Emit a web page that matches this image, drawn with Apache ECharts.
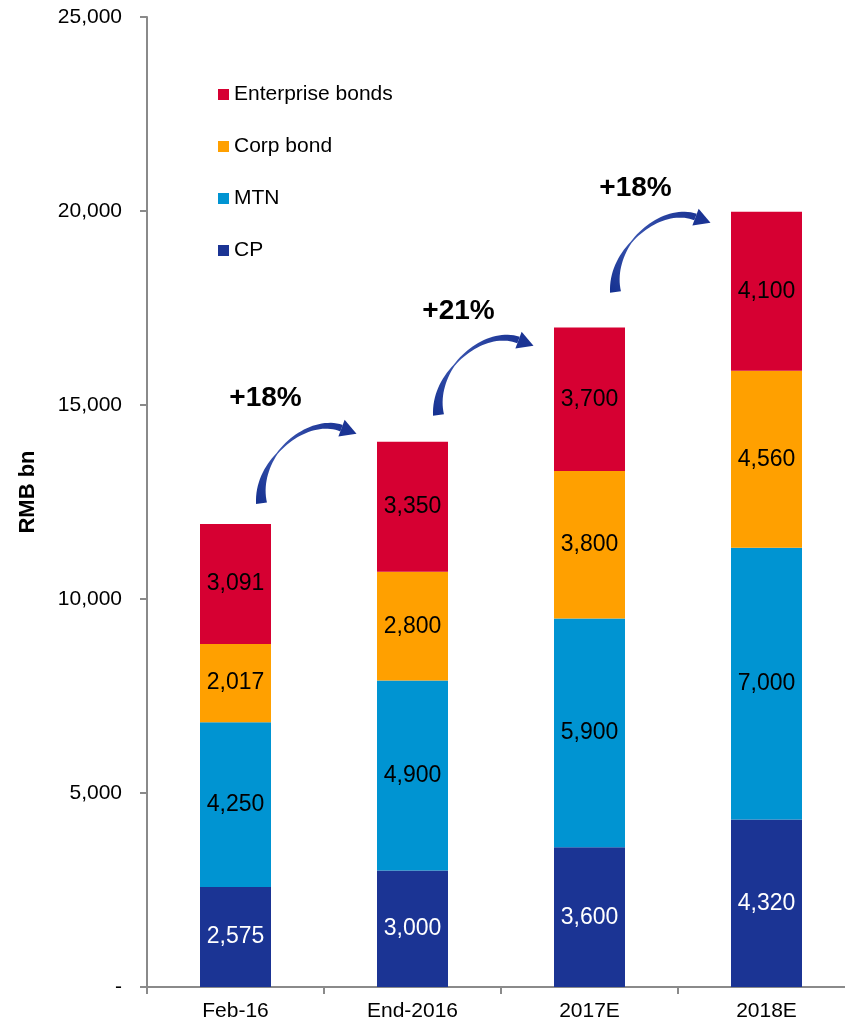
<!DOCTYPE html>
<html>
<head>
<meta charset="utf-8">
<script src="https://cdn.jsdelivr.net/npm/echarts@6/dist/echarts.min.js"></script>
<style>
  html, body { margin: 0; padding: 0; background: #fff; }
  #chart { width: 845px; height: 1022px; }
</style>
</head>
<body>
<div id="chart"></div>
<script>
// Outstanding onshore corporate credit, RMB bn
const categories = ['Feb-16', 'End-2016', '2017E', '2018E'];
const cpValues = [2575, 3000, 3600, 4320];
const mtnValues = [4250, 4900, 5900, 7000];
const corpBondValues = [2017, 2800, 3800, 4560];
const enterpriseBondValues = [3091, 3350, 3700, 4100];

// Growth call-outs between consecutive columns
const growthLabels = ['+18%', '+21%', '+18%'];
// Data-space anchors (value axis) for the arrow tails and the growth text
const arrowTailValues = [12470, 14740, 17910];
const growthTextValues = [15180, 17420, 20590];

const FONT = '"Liberation Sans", Arial, Helvetica, sans-serif';
const fmt = v => v.toLocaleString('en-US');

const chart = echarts.init(document.getElementById('chart'), null, { renderer: 'canvas' });

function barSeries(name, data, color, labelColor) {
  return {
    name: name,
    type: 'bar',
    stack: 'total',
    data: data,
    barWidth: 71,
    itemStyle: { color: color },
    label: {
      show: true,
      position: 'inside',
      color: labelColor,
      fontFamily: FONT,
      fontSize: 23,
      formatter: p => fmt(p.value)
    },
    emphasis: { disabled: true }
  };
}

chart.setOption({
  animation: false,
  backgroundColor: '#ffffff',
  grid: { left: 147, right: -10, top: 17, bottom: 35, containLabel: false, outerBoundsMode: 'none' },
  legend: {
    orient: 'vertical',
    left: 213,
    top: 79,
    itemWidth: 11,
    itemHeight: 11,
    itemGap: 31,
    icon: 'rect',
    data: ['Enterprise bonds', 'Corp bond', 'MTN', 'CP'],
    textStyle: { fontFamily: FONT, fontSize: 21, color: '#000' },
    selectedMode: false
  },
  xAxis: {
    type: 'category',
    data: categories,
    boundaryGap: true,
    axisLine: { lineStyle: { color: '#8a8a8a', width: 2 } },
    axisTick: { show: true, alignWithLabel: false, length: 7, lineStyle: { color: '#8a8a8a', width: 2 } },
    axisLabel: { fontFamily: FONT, fontSize: 21, color: '#000', margin: 14 }
  },
  yAxis: {
    type: 'value',
    min: 0,
    max: 25000,
    interval: 5000,
    name: 'RMB bn',
    nameLocation: 'middle',
    nameGap: 108,
    nameRotate: 90,
    nameTextStyle: { fontFamily: FONT, fontSize: 22, fontWeight: 'bold', color: '#000', padding: [0, 0, 0, 20] },
    splitLine: { show: false },
    axisLine: { show: true, lineStyle: { color: '#8a8a8a', width: 2 } },
    axisTick: { show: true, length: 7, lineStyle: { color: '#8a8a8a', width: 2 } },
    axisLabel: {
      fontFamily: FONT, fontSize: 21, color: '#000', margin: 25,
      formatter: v => (v === 0 ? '-' : fmt(v))
    }
  },
  series: [
    barSeries('CP', cpValues, '#1B3494', '#ffffff'),
    barSeries('MTN', mtnValues, '#0094D2', '#000000'),
    barSeries('Corp bond', corpBondValues, '#FFA000', '#000000'),
    barSeries('Enterprise bonds', enterpriseBondValues, '#D60032', '#000000')
  ]
});

// Curved growth arrow: a tapered cubic Bezier body plus a triangular head,
// expressed relative to the tail point.
function arrowPoints(tx, ty) {
  const P0 = [0, 0], P1 = [-6, -45], P2 = [45, -88], P3 = [80, -75];
  const bez = t => {
    const u = 1 - t;
    return [
      u*u*u*P0[0] + 3*u*u*t*P1[0] + 3*u*t*t*P2[0] + t*t*t*P3[0],
      u*u*u*P0[1] + 3*u*u*t*P1[1] + 3*u*t*t*P2[1] + t*t*t*P3[1]
    ];
  };
  const deriv = t => {
    const u = 1 - t;
    return [
      3*u*u*(P1[0]-P0[0]) + 6*u*t*(P2[0]-P1[0]) + 3*t*t*(P3[0]-P2[0]),
      3*u*u*(P1[1]-P0[1]) + 6*u*t*(P2[1]-P1[1]) + 3*t*t*(P3[1]-P2[1])
    ];
  };
  const width = t => (t < 0.4 ? 11 - (9.6 * t / 0.4) : 1.4 + (7 - 1.4) * (t - 0.4) / 0.6);
  const left = [], right = [];
  const N = 40;
  for (let i = 0; i <= N; i++) {
    const t = i / N;
    const p = bez(t), d = deriv(t);
    const len = Math.hypot(d[0], d[1]) || 1;
    const nx = -d[1] / len, ny = d[0] / len;
    const w = width(t) / 2;
    left.push([tx + p[0] + nx * w, ty + p[1] + ny * w]);
    right.push([tx + p[0] - nx * w, ty + p[1] - ny * w]);
  }
  const body = left.concat(right.reverse());
  const end = bez(1), d = deriv(1);
  const len = Math.hypot(d[0], d[1]);
  const dx = d[0] / len, dy = d[1] / len;
  const nx = -dy, ny = dx;
  const head = [
    [tx + end[0] + nx * 9, ty + end[1] + ny * 9],
    [tx + end[0] + dx * 16, ty + end[1] + dy * 16],
    [tx + end[0] - nx * 9, ty + end[1] - ny * 9]
  ];
  return { body, head };
}

function placeAnnotations() {
  const elements = [];
  growthLabels.forEach((txt, i) => {
    const tail = chart.convertToPixel({ gridIndex: 0 }, [i, arrowTailValues[i]]);
    const tx = tail[0] + 26, ty = tail[1];
    const a = arrowPoints(tx, ty);
    const grad = new echarts.graphic.LinearGradient(0, 1, 1, 0, [
      { offset: 0, color: '#14308f' },
      { offset: 0.45, color: '#3a55b0' },
      { offset: 1, color: '#1B3494' }
    ]);
    elements.push({
      type: 'polygon', silent: true,
      shape: { points: a.body },
      style: { fill: grad }
    });
    elements.push({
      type: 'polygon', silent: true,
      shape: { points: a.head },
      style: { fill: '#1B3494' }
    });
    const tp = chart.convertToPixel({ gridIndex: 0 }, [i, growthTextValues[i]]);
    const dxText = i === 0 ? 30 : 46;
    elements.push({
      type: 'text', silent: true,
      x: tp[0] + dxText, y: tp[1],
      style: {
        text: txt,
        font: 'bold 28px ' + FONT,
        fill: '#000',
        align: 'center',
        verticalAlign: 'middle'
      }
    });
  });
  chart.setOption({ graphic: { elements: elements } });
}
placeAnnotations();
</script>
</body>
</html>
